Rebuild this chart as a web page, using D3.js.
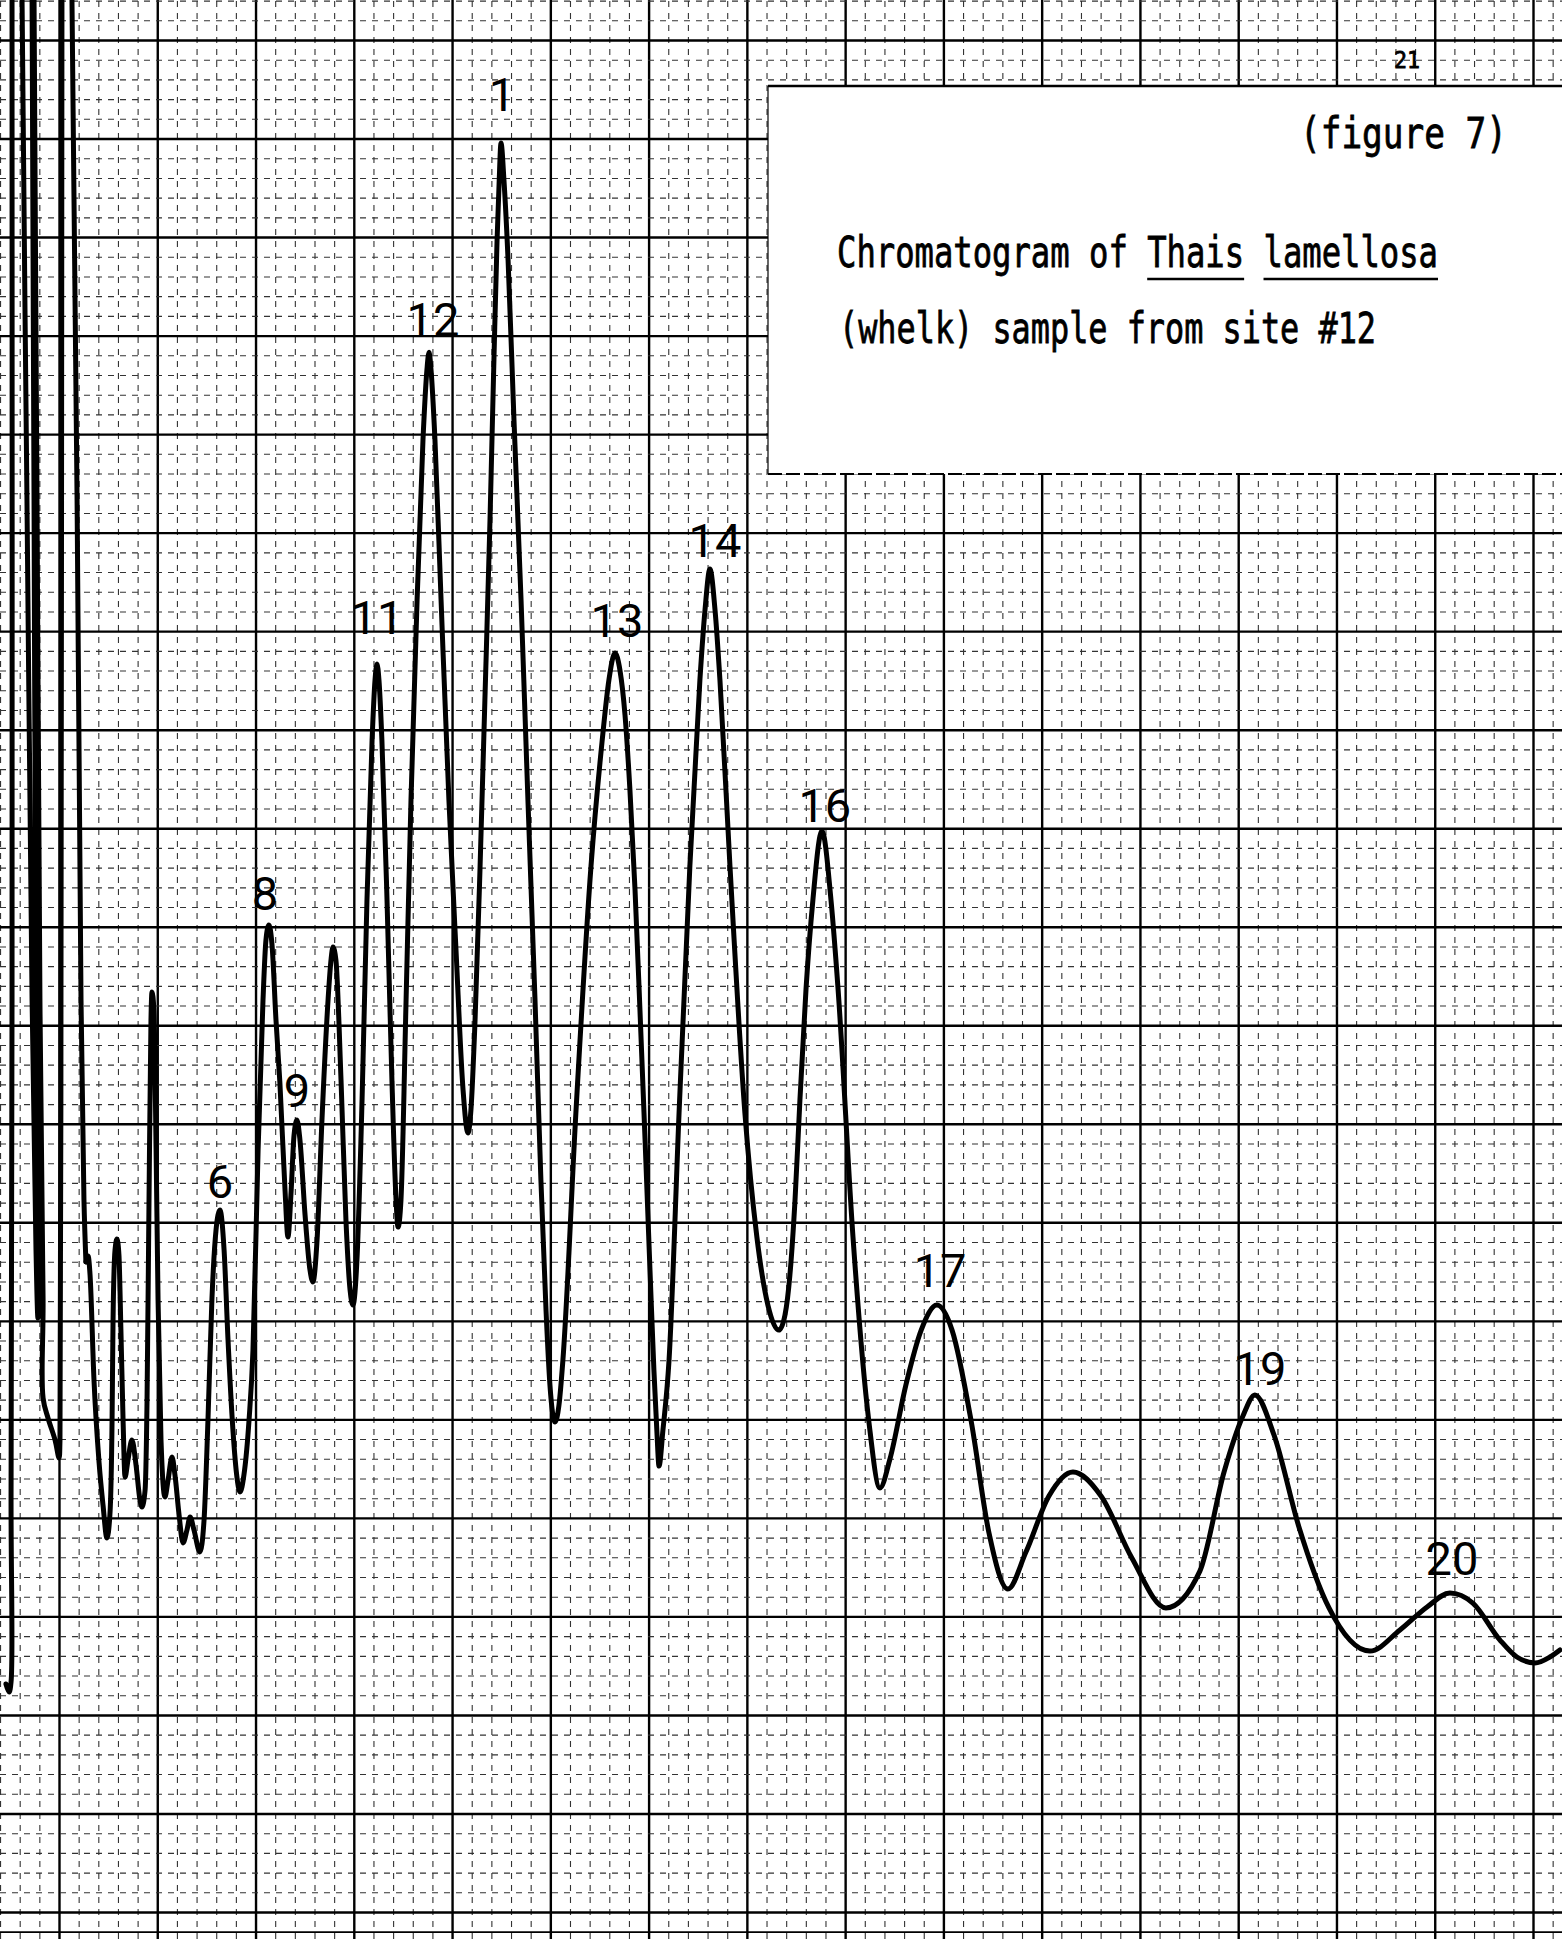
<!DOCTYPE html>
<html>
<head>
<meta charset="utf-8">
<script src="https://cdn.jsdelivr.net/npm/d3@7"></script>
<style>
  body { margin: 0; background: #fff; }
  svg { display: block; background: #fff; }
  .major { stroke: #000; stroke-width: 2.4; }
  .minor { stroke: #333; stroke-width: 1.1; stroke-dasharray: 6 6; }
  .edge { stroke: #000; stroke-width: 1.8; }
  .trace { fill: none; stroke: #000; stroke-width: 5; stroke-linejoin: round; stroke-linecap: round; }
  .peak-label { font-family: Roboto, 'DejaVu Sans', sans-serif; font-weight: 400; font-size: 47px; fill: #000; }
  .typed { font-family: 'DejaVu Sans Mono', 'Liberation Mono', monospace; fill: #000; stroke: #000; stroke-width: 0.6; }
</style>
</head>
<body>
<svg width="1562" height="1939"></svg>
<script>
// recorder trace, in chart divisions (5 small divisions per heavy line)
// solvent front: off-scale strokes at the start of the run
const solventTime = [
  -2.70, -2.54, -2.44, -2.44, -2.39, -2.39, -2.39, -2.14, -1.88, -1.88,
  -1.63, -1.37, -1.17, -1.07, -1.02, -1.17, -1.27, -1.37, -1.37, -1.32,
  -1.27, -1.27, -1.12, -0.97, -0.81, -0.81, -0.56, -0.20, 0.00, 0.05,
  0.10, 0.15, 0.15, 0.41, 0.66, 0.66, 0.92, 1.12, 1.27, 1.37
];
const solventResponse = [
  11.57, 11.16, 11.67, 20.91, 46.28, 97.03, 99.06, 100.58, 99.06, 97.03,
  71.65, 46.28, 33.59, 30.14, 31.06, 46.28, 71.65, 97.03, 99.06, 100.58,
  99.06, 97.03, 71.65, 46.28, 31.06, 26.08, 25.07, 23.95, 23.04, 23.95,
  46.28, 97.03, 99.06, 100.58, 99.06, 97.03, 71.65, 46.28, 36.13, 32.99
];
// the rest of the run
const traceTime = [
  1.37, 1.48, 1.58, 1.78, 2.04, 2.24, 2.44, 2.59, 2.70, 2.75,
  2.85, 2.95, 3.05, 3.15, 3.26, 3.36, 3.51, 3.71, 3.92, 4.12,
  4.22, 4.38, 4.48, 4.58, 4.68, 4.73, 4.83, 4.94, 5.04, 5.19,
  5.39, 5.55, 5.75, 5.90, 6.11, 6.31, 6.51, 6.67, 6.87, 7.17,
  7.38, 7.58, 7.78, 7.99, 8.19, 8.40, 8.60, 8.85, 9.06, 9.21,
  9.41, 9.67, 9.87, 10.13, 10.38, 10.53, 10.68, 10.84, 11.04, 11.24,
  11.50, 11.65, 11.80, 11.96, 12.11, 12.26, 12.52, 12.77, 12.92, 13.13,
  13.38, 13.69, 13.84, 13.94, 14.09, 14.35, 14.60, 14.81, 14.96, 15.16,
  15.42, 15.67, 15.93, 16.08, 16.18, 16.28, 16.43, 16.69, 16.94, 17.15,
  17.25, 17.40, 17.66, 17.91, 18.22, 18.52, 18.72, 18.83, 18.93, 19.13,
  19.44, 19.84, 20.20, 20.56, 20.81, 20.96, 21.17, 21.42, 21.67, 21.93,
  22.13, 22.29, 22.39, 22.49, 22.64, 22.85, 23.15, 23.51, 23.86, 24.22,
  24.52, 24.78, 24.98, 25.24, 25.44, 25.64, 26.30, 27.07, 27.63, 27.98,
  28.29, 28.54, 28.80, 29.05, 29.31, 29.56, 29.82, 30.07, 30.27, 30.43,
  30.53, 30.73, 31.04, 31.55, 32.10, 32.61, 32.87, 33.12, 33.38, 33.63,
  34.14, 34.90, 35.51, 36.07, 36.63, 36.94, 37.19, 37.45, 37.70, 38.01,
  38.36, 38.82, 39.28, 39.64, 40.40, 41.21, 41.77, 42.28, 43.09, 43.87,
  44.67, 45.44, 46.42, 47.32, 48.28, 49.20, 50.37, 51.59, 53.02, 54.59,
  56.32, 58.05, 59.28, 60.24, 60.85, 61.82, 63.09, 64.62, 66.70, 68.23,
  69.61, 70.77, 71.94, 73.32, 74.18, 75.10, 75.86, 76.37
];
const traceResponse = [
  32.99, 33.29, 32.33, 27.00, 22.79, 20.65, 18.98, 20.15, 24.97, 30.04,
  33.59, 34.15, 33.34, 29.53, 24.97, 22.07, 22.94, 23.95, 22.68, 20.91,
  20.55, 21.41, 25.98, 36.13, 45.27, 46.69, 45.77, 38.67, 31.06, 23.95,
  21.06, 21.92, 23.09, 22.18, 20.15, 18.73, 19.38, 20.04, 19.38, 18.27,
  19.89, 24.97, 31.06, 34.61, 35.62, 33.59, 29.03, 24.46, 22.02, 21.31,
  22.18, 24.97, 28.52, 38.67, 46.28, 49.33, 50.09, 49.07, 45.27, 42.07,
  36.64, 34.25, 36.38, 39.43, 40.19, 39.18, 35.37, 32.58, 31.97, 34.10,
  40.19, 46.28, 48.31, 48.97, 48.31, 42.22, 35.12, 31.56, 30.80, 33.09,
  41.21, 51.36, 59.47, 62.52, 63.33, 62.52, 59.47, 51.36, 42.22, 36.13,
  34.76, 36.13, 46.28, 56.43, 66.58, 74.70, 78.25, 79.16, 78.25, 74.70,
  66.58, 56.43, 48.82, 41.71, 39.53, 40.70, 45.27, 52.88, 61.50, 70.64,
  78.76, 84.85, 87.64, 89.77, 87.89, 83.83, 75.71, 66.58, 56.43, 46.28,
  37.15, 30.55, 26.74, 24.87, 25.73, 28.01, 40.55, 53.08, 59.37, 62.52,
  63.89, 63.03, 60.74, 56.94, 51.86, 45.77, 39.18, 32.58, 27.50, 24.21,
  22.63, 24.46, 28.01, 40.55, 53.08, 62.52, 66.07, 68.15, 66.07, 62.52,
  53.08, 40.55, 34.25, 30.80, 29.53, 30.30, 32.33, 36.13, 41.21, 46.84,
  51.36, 54.86, 51.36, 46.84, 34.25, 24.87, 21.52, 22.99, 26.74, 29.53,
  30.80, 29.53, 24.87, 19.23, 16.39, 18.27, 21.11, 22.33, 21.11, 17.96,
  15.43, 17.30, 22.33, 25.17, 26.24, 24.21, 19.54, 15.43, 13.24, 14.31,
  15.48, 16.19, 15.68, 13.80, 12.94, 12.64, 12.94, 13.30
];

// hand lettered peak numbers: centre time and baseline height
const peakNames = ['6', '8', '9', '11', '12', '1', '13', '14', '16', '17', '19', '20'];
const peakTime = [8.19, 10.48, 12.11, 16.18, 19.03, 22.54, 28.39, 33.38, 38.97, 44.83, 61.11, 70.88];
const peakHeight = [36.23, 50.85, 40.85, 64.85, 79.98, 91.39, 64.70, 68.76, 55.31, 31.72, 26.74, 17.10];

const figureLabel = '(figure 7)';
const captionLines = ['Chromatogram of Thais lamellosa', '(whelk) sample from site #12'];
const underlined = ['Thais', 'lamellosa'];
const pageNumber = '21';

const svg = d3.select('svg');
const width = +svg.attr('width');
const height = +svg.attr('height');

const render = () => {
    const xScale = d3.scaleLinear().domain([0, 75]).range([59, 1533]);
    const yScale = d3.scaleLinear().domain([0, 95]).range([1912, 40]);

    // graph paper: heavy line every 5 small divisions
    const xGrid = d3.axisBottom(xScale)
        .tickValues(d3.range(-3, 78))
        .tickSize(-height)
        .tickFormat('');
    const xGridG = svg.append('g')
        .attr('transform', `translate(0, ${height})`)
        .call(xGrid);
    xGridG.select('.domain').remove();
    xGridG.selectAll('.tick line').attr('class', d => d % 5 === 0 ? 'major' : 'minor');

    const yGrid = d3.axisLeft(yScale)
        .tickValues(d3.range(-1, 98))
        .tickSize(-width)
        .tickFormat('');
    const yGridG = svg.append('g').call(yGrid);
    yGridG.select('.domain').remove();
    yGridG.selectAll('.tick line')
        .attr('class', d => d === -1 ? 'edge' : (d % 5 === 0 ? 'major' : 'minor'));

    // pasted-on caption slip
    const box = { x: 768, y: 86, bottom: 474 };
    svg.append('rect')
        .attr('x', box.x).attr('y', box.y)
        .attr('width', width - box.x).attr('height', box.bottom - box.y)
        .attr('fill', '#fff');
    svg.append('line')
        .attr('x1', box.x).attr('x2', width).attr('y1', box.y).attr('y2', box.y)
        .attr('stroke', '#000').attr('stroke-width', 2.5);
    svg.append('line')
        .attr('x1', box.x).attr('x2', box.x).attr('y1', box.y).attr('y2', box.bottom)
        .attr('stroke', '#000').attr('stroke-width', 1.2);
    svg.append('line')
        .attr('x1', box.x).attr('x2', width).attr('y1', box.bottom).attr('y2', box.bottom)
        .attr('stroke', '#000').attr('stroke-width', 2).attr('stroke-dasharray', '14 4');

    // the trace: solvent strokes go back and forth, the rest runs forward in time
    const solventLine = d3.line()
        .x(d => xScale(d[0]))
        .y(d => yScale(d[1]))
        .curve(d3.curveCatmullRom.alpha(0.5));
    const traceLine = d3.line()
        .x(d => xScale(d[0]))
        .y(d => yScale(d[1]))
        .curve(d3.curveMonotoneX);

    svg.append('path')
        .attr('class', 'trace')
        .attr('d', solventLine(solventTime.map((t, i) => [t, solventResponse[i]])));
    svg.append('path')
        .attr('class', 'trace')
        .attr('d', traceLine(traceTime.map((t, i) => [t, traceResponse[i]])));

    svg.selectAll('.peak-label')
        .data(peakNames)
        .enter().append('text')
        .attr('class', 'peak-label')
        .attr('text-anchor', 'middle')
        .attr('x', (d, i) => xScale(peakTime[i]))
        .attr('y', (d, i) => yScale(peakHeight[i]))
        .text(d => d);

    // typewritten text (narrow, tall typeface)
    const typed = (str, x, baseline, len, size) => {
        svg.append('text')
            .attr('class', 'typed')
            .attr('transform', `translate(${x}, ${baseline}) scale(1, 1.4)`)
            .attr('font-size', size)
            .attr('textLength', len)
            .attr('lengthAdjust', 'spacingAndGlyphs')
            .text(str);
    };

    typed(pageNumber, 1394, 68, 26, 17);
    typed(figureLabel, 1300, 148, 207, 31);
    typed(captionLines[0], 837, 267, 601, 31);
    typed(captionLines[1], 839, 343, 537, 31);

    const charW = 601 / captionLines[0].length;
    underlined.forEach(word => {
        const start = captionLines[0].indexOf(word);
        svg.append('line')
            .attr('x1', 837 + start * charW)
            .attr('x2', 837 + (start + word.length) * charW)
            .attr('y1', 279).attr('y2', 279)
            .attr('stroke', '#000').attr('stroke-width', 2.5);
    });
};

render();
</script>
</body>
</html>
